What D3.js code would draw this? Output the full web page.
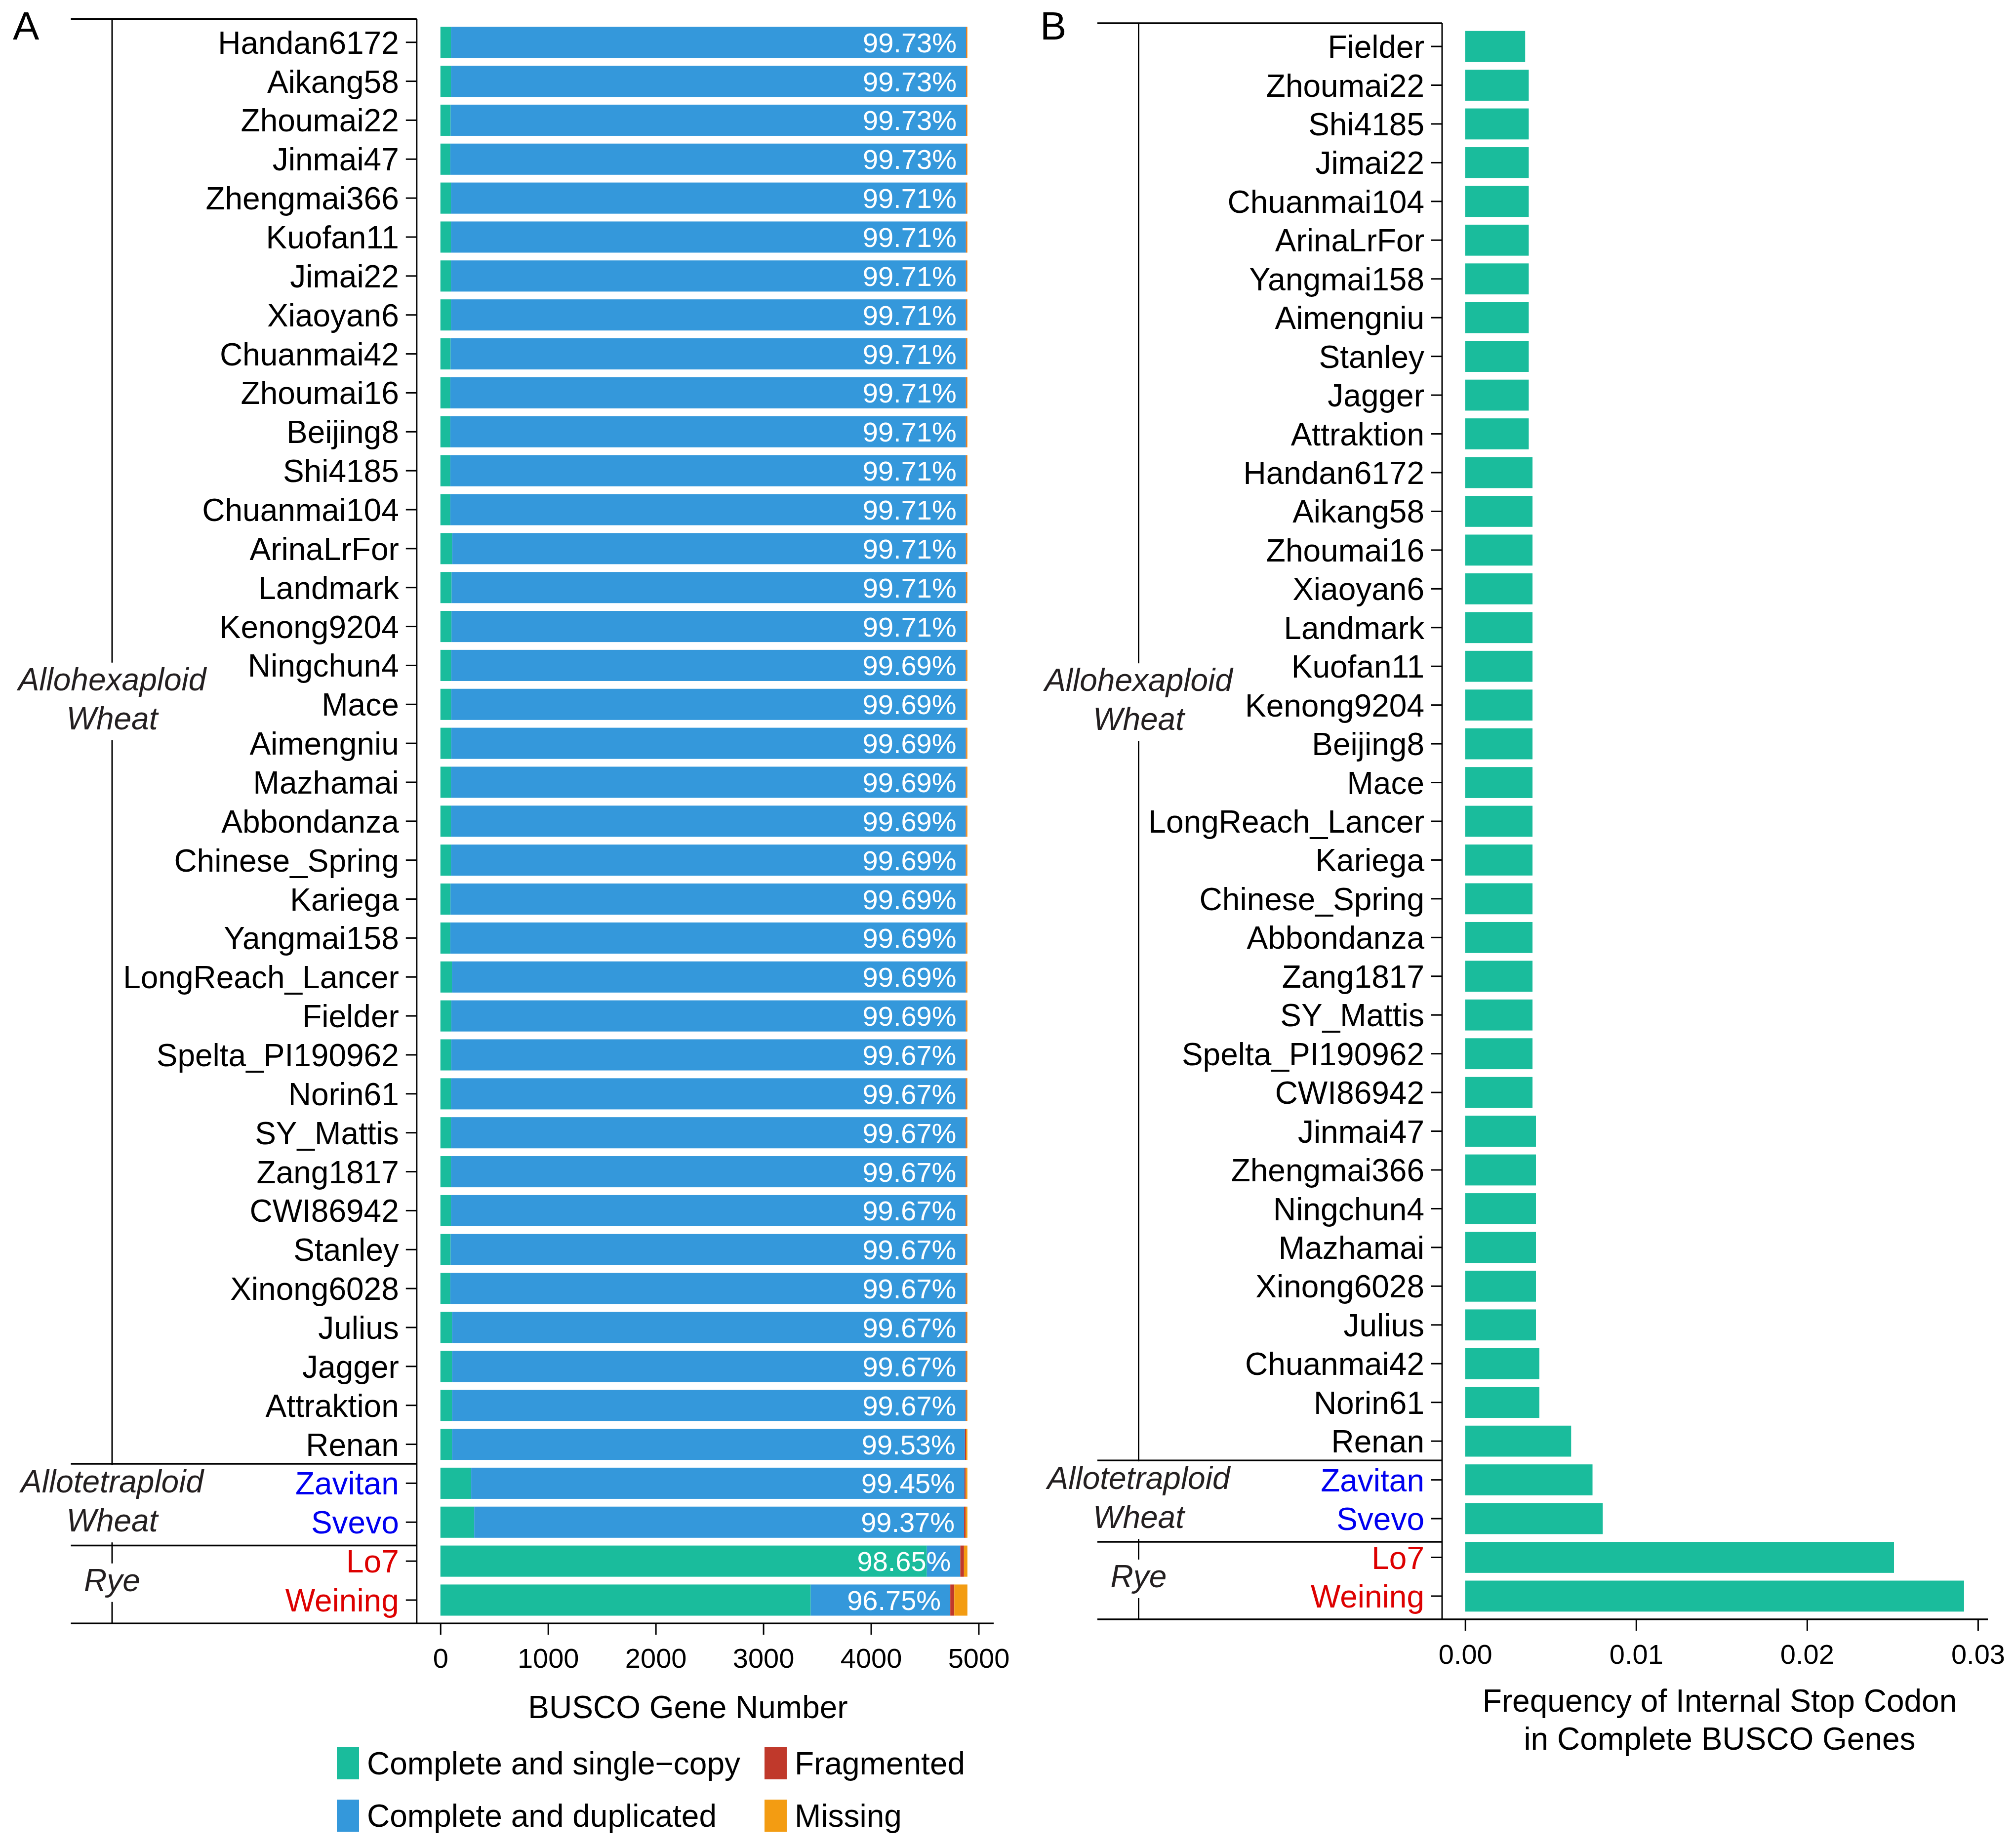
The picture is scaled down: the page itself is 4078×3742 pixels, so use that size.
<!DOCTYPE html>
<html>
<head>
<meta charset="utf-8">
<script src="https://cdn.jsdelivr.net/npm/d3@7"></script>
<style>
  html, body { margin: 0; padding: 0; background: #fff; }
  svg { display: block; }
  text { font-family: "Liberation Sans", Arial, Helvetica, sans-serif; }
</style>
</head>
<body>
<script>
// ---------------- DATA ----------------
const busco_names = ["Handan6172","Aikang58","Zhoumai22","Jinmai47","Zhengmai366","Kuofan11","Jimai22","Xiaoyan6",
  "Chuanmai42","Zhoumai16","Beijing8","Shi4185","Chuanmai104","ArinaLrFor","Landmark","Kenong9204","Ningchun4","Mace",
  "Aimengniu","Mazhamai","Abbondanza","Chinese_Spring","Kariega","Yangmai158","LongReach_Lancer","Fielder",
  "Spelta_PI190962","Norin61","SY_Mattis","Zang1817","CWI86942","Stanley","Xinong6028","Julius","Jagger","Attraktion",
  "Renan","Zavitan","Svevo","Lo7","Weining"];
const single_copy = [98,98,95,92,98,98,98,98,95,92,92,92,92,109,104,103,100,100,100,98,98,98,94,92,107,101,
  100,98,98,98,98,95,92,108,108,108,108,286,314,4519,3440];
const duplicated = [4785,4785,4788,4791,4784,4784,4784,4784,4787,4790,4790,4790,4790,4773,4778,4779,4781,4781,4781,4783,4783,4783,4787,4789,4774,4780,
  4780,4782,4782,4782,4782,4785,4788,4772,4772,4772,4765,4583,4551,311,1297];
const fragmented = [4,4,4,4,5,5,5,5,5,5,5,5,5,5,5,5,5,5,5,5,5,5,5,5,5,5,
  7,7,7,7,7,7,7,7,7,7,10,11,14,34,37];
const missing = [9,9,9,9,9,9,9,9,9,9,9,9,9,9,9,9,10,10,10,10,10,10,10,10,10,10,
  9,9,9,9,9,9,9,9,9,9,13,16,17,32,122];
const complete_pct = [99.73,99.73,99.73,99.73,99.71,99.71,99.71,99.71,99.71,99.71,99.71,99.71,99.71,99.71,99.71,99.71,
  99.69,99.69,99.69,99.69,99.69,99.69,99.69,99.69,99.69,99.69,
  99.67,99.67,99.67,99.67,99.67,99.67,99.67,99.67,99.67,99.67,99.53,99.45,99.37,98.65,96.75];
const busco_categories = ["Complete and single\u2212copy","Complete and duplicated","Fragmented","Missing"];
const busco_ticks = [0,1000,2000,3000,4000,5000];

const stop_names = ["Fielder","Zhoumai22","Shi4185","Jimai22","Chuanmai104","ArinaLrFor","Yangmai158","Aimengniu",
  "Stanley","Jagger","Attraktion","Handan6172","Aikang58","Zhoumai16","Xiaoyan6","Landmark","Kuofan11","Kenong9204",
  "Beijing8","Mace","LongReach_Lancer","Kariega","Chinese_Spring","Abbondanza","Zang1817","SY_Mattis","Spelta_PI190962",
  "CWI86942","Jinmai47","Zhengmai366","Ningchun4","Mazhamai","Xinong6028","Julius","Chuanmai42","Norin61","Renan",
  "Zavitan","Svevo","Lo7","Weining"];
const stop_freq = [0.00351,0.00372,0.00372,0.00372,0.00372,0.00372,0.00372,0.00372,0.00372,0.00372,0.00372,
  0.00394,0.00394,0.00394,0.00394,0.00394,0.00394,0.00394,0.00394,0.00394,0.00394,0.00394,0.00394,0.00394,0.00394,0.00394,0.00394,0.00394,
  0.00414,0.00414,0.00414,0.00414,0.00414,0.00414,0.00434,0.00434,0.00620,0.00745,0.00805,0.02509,0.02919];
const stop_ticks = [0.00,0.01,0.02,0.03];

const groups = [
  {lines:["Allohexaploid","Wheat"], center:16.86},
  {lines:["Allotetraploid","Wheat"], center:37.46},
  {lines:["Rye"], center:39.49}
];
const separators = [37.1, 39.2];
const tetraploid = ["Zavitan","Svevo"];
const rye = ["Lo7","Weining"];

// ---------------- STYLE / LAYOUT ----------------
const W = 4078, H = 3742;
const colors = ["#1ABC9C","#3498DB","#C0392B","#F39C12"];
const nameColor = n => tetraploid.includes(n) ? "#0000F0" : rye.includes(n) ? "#DD0000" : "#000";
const groupColor = "#231F20";

const svg = d3.select("body").append("svg").attr("width", W).attr("height", H)
  .attr("viewBox", `0 0 ${W} ${H}`);
svg.append("rect").attr("width", W).attr("height", H).attr("fill", "#fff");

function drawFrame(g, cfg, names, yScale) {
  const step = yScale.step();
  const yAt = f => cfg.top + f * step;
  // bracket vertical line
  g.append("line").attr("x1", cfg.bracketX).attr("x2", cfg.bracketX)
    .attr("y1", cfg.top).attr("y2", cfg.bottom).attr("stroke", "#000").attr("stroke-width", 3);
  // white breaks behind group labels
  groups.forEach(gr => {
    const c = yAt(gr.center + 0.6);
    const n = gr.lines.length;
    const first = c - (n - 1) * 39.5 + 22;
    const last = c + (n - 1) * 39.5 + 22;
    g.append("rect").attr("x", cfg.bracketX - 10).attr("width", 20)
      .attr("y", first - 56).attr("height", (last + 22) - (first - 56)).attr("fill", "#fff");
    gr.lines.forEach((t, i) => {
      g.append("text").attr("x", cfg.bracketX).attr("y", first + i * 79)
        .attr("text-anchor", "middle").attr("font-size", 64).attr("font-style", "italic")
        .attr("fill", groupColor).text(t);
    });
  });
  // horizontal lines: top, separators, bottom
  const hy = [cfg.top].concat(separators.map(yAt));
  hy.forEach(y => g.append("line").attr("x1", cfg.lineLeft).attr("x2", cfg.axisX)
    .attr("y1", y).attr("y2", y).attr("stroke", "#000").attr("stroke-width", 3.5));
  g.append("line").attr("x1", cfg.lineLeft).attr("x2", cfg.right)
    .attr("y1", cfg.bottom).attr("y2", cfg.bottom).attr("stroke", "#000").attr("stroke-width", 3.5);
  // y axis line
  g.append("line").attr("x1", cfg.axisX).attr("x2", cfg.axisX)
    .attr("y1", cfg.top).attr("y2", cfg.bottom).attr("stroke", "#000").attr("stroke-width", 3);
  // y axis ticks / labels
  const ya = g.append("g").attr("transform", `translate(${cfg.axisX},0)`)
    .call(d3.axisLeft(yScale).tickSize(22).tickPadding(14));
  ya.select(".domain").remove();
  ya.selectAll(".tick line").attr("stroke", "#000").attr("stroke-width", 3);
  ya.selectAll(".tick text").attr("font-size", 64).attr("dy", "0.36em")
    .attr("font-family", "Liberation Sans, Arial, sans-serif")
    .attr("fill", d => nameColor(d));
}

function drawXAxis(g, cfg, xScale, ticks, fmt) {
  const xa = g.append("g").attr("transform", `translate(0,${cfg.bottom})`)
    .call(d3.axisBottom(xScale).tickValues(ticks).tickFormat(fmt).tickSize(23).tickPadding(27));
  xa.select(".domain").remove();
  xa.selectAll(".tick line").attr("stroke", "#000").attr("stroke-width", 3);
  xa.selectAll(".tick text").attr("font-size", 56).attr("fill", "#000")
    .attr("font-family", "Liberation Sans, Arial, sans-serif");
}

// ---------------- PANEL A ----------------
const cfgA = {axisX: 843.8, right: 2012, top: 38.4, bottom: 3287.3, bracketX: 227, lineLeft: 143.5};
const gA = svg.append("g");
const yA = d3.scaleBand().domain(busco_names).range([cfgA.top, cfgA.bottom]).paddingInner(0.2).paddingOuter(0.2);
const xA = d3.scaleLinear().domain([-220, 5140]).range([cfgA.axisX, cfgA.right]);

const rowsA = busco_names.map((n, i) => ({name: n, vals: [single_copy[i], duplicated[i], fragmented[i], missing[i]], pct: complete_pct[i]}));
const stackA = d3.stack().keys([0,1,2,3]).value((d, k) => d.vals[k])(rowsA);
gA.append("g").selectAll("g").data(stackA).join("g").attr("fill", (d, i) => colors[i])
  .selectAll("rect").data(d => d).join("rect")
  .attr("x", d => xA(d[0])).attr("width", d => Math.max(0, xA(d[1]) - xA(d[0])))
  .attr("y", d => yA(d.data.name)).attr("height", yA.bandwidth());

gA.append("g").selectAll("text").data(rowsA).join("text")
  .attr("x", d => xA(d.vals[0] + d.vals[1]) - 19)
  .attr("y", d => yA(d.name) + yA.bandwidth() / 2 + 20)
  .attr("text-anchor", "end").attr("font-size", 56).attr("fill", "#fff")
  .text(d => d.pct.toFixed(2) + "%");

drawFrame(gA, cfgA, busco_names, yA);
drawXAxis(gA, cfgA, xA, busco_ticks, d3.format("d"));

gA.append("text").attr("x", 1393).attr("y", 3479).attr("text-anchor", "middle")
  .attr("font-size", 64).attr("fill", "#000").text("BUSCO Gene Number");

// legend
const legendPos = [[682, 3538], [682, 3644], [1548, 3538], [1548, 3644]];
busco_categories.forEach((c, i) => {
  const [lx, ly] = legendPos[i];
  gA.append("rect").attr("x", lx).attr("y", ly).attr("width", 45).attr("height", 65).attr("fill", colors[i]);
  gA.append("text").attr("x", lx + 61).attr("y", ly + 55).attr("font-size", 64).attr("fill", "#000").text(c);
});

gA.append("text").attr("x", 26).attr("y", 80).attr("font-size", 80).attr("fill", "#000").text("A");

// ---------------- PANEL B ----------------
const cfgB = {axisX: 2920, right: 4025, top: 47, bottom: 3279, bracketX: 2305.5, lineLeft: 2222};
const gB = svg.append("g");
const yB = d3.scaleBand().domain(stop_names).range([cfgB.top, cfgB.bottom]).paddingInner(0.2).paddingOuter(0.2);
const xB = d3.scaleLinear().domain([-0.00135, 0.03058]).range([cfgB.axisX, cfgB.right]);

gB.append("g").selectAll("rect").data(stop_names.map((n, i) => ({name: n, v: stop_freq[i]}))).join("rect")
  .attr("x", xB(0)).attr("width", d => xB(d.v) - xB(0))
  .attr("y", d => yB(d.name)).attr("height", yB.bandwidth()).attr("fill", colors[0]);

drawFrame(gB, cfgB, stop_names, yB);
drawXAxis(gB, cfgB, xB, stop_ticks, d3.format(".2f"));

gB.append("text").attr("x", 3482).attr("y", 3466).attr("text-anchor", "middle")
  .attr("font-size", 64).attr("fill", "#000").text("Frequency of Internal Stop Codon");
gB.append("text").attr("x", 3482).attr("y", 3543).attr("text-anchor", "middle")
  .attr("font-size", 64).attr("fill", "#000").text("in Complete BUSCO Genes");

gB.append("text").attr("x", 2106).attr("y", 80).attr("font-size", 80).attr("fill", "#000").text("B");
</script>
</body>
</html>
